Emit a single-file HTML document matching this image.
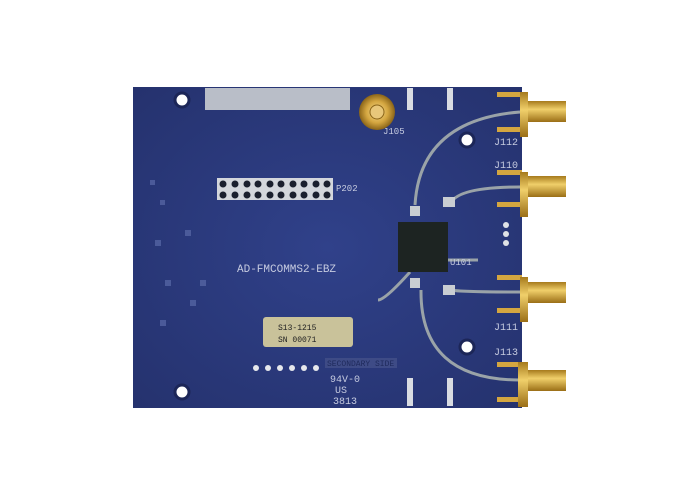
<!DOCTYPE html>
<html><head><style>
html,body{margin:0;padding:0;background:#fff;width:700px;height:500px;overflow:hidden}
svg{display:block}
text{font-family:"Liberation Mono",monospace}
</style></head><body>
<svg width="700" height="500" viewBox="0 0 700 500">
<defs>
<radialGradient id="bg" cx="0.5" cy="0.5" r="0.7">
<stop offset="0" stop-color="#30418a"/><stop offset="1" stop-color="#25326e"/>
</radialGradient>
<linearGradient id="gold" x1="0" y1="0" x2="0" y2="1">
<stop offset="0" stop-color="#a67a1c"/><stop offset="0.4" stop-color="#f0cf6a"/><stop offset="1" stop-color="#9a6e16"/>
</linearGradient>
<radialGradient id="goldr"><stop offset="0" stop-color="#f6dc90"/><stop offset="0.6" stop-color="#d4a640"/><stop offset="1" stop-color="#8a6418"/></radialGradient>
</defs>
<rect x="133" y="87" width="389" height="321" fill="url(#bg)"/>
<rect x="205" y="88" width="145" height="22" fill="#b9bec8"/>
<g fill="#fff" stroke="#1c2658" stroke-width="3">
<circle cx="182" cy="100" r="7"/><circle cx="182" cy="392" r="7"/>
<circle cx="467" cy="140" r="7"/><circle cx="467" cy="347" r="7"/>
</g>
<g fill="none" stroke="#9aa3a8" stroke-width="3">
<path d="M415 205 Q420 120 520 112"/>
<path d="M450 205 Q455 187 520 187"/>
<path d="M447 260 L478 260"/>
<path d="M410 272 Q385 300 378 300"/>
<path d="M451 290 Q460 292 520 292"/>
<path d="M421 290 Q420 380 520 380"/>
</g>
<rect x="398" y="222" width="50" height="50" fill="#1d2422"/>
<rect x="410" y="206" width="10" height="10" fill="#c9cdd2"/><rect x="410" y="278" width="10" height="10" fill="#c9cdd2"/>
<rect x="443" y="197" width="12" height="10" fill="#c9cdd2"/><rect x="443" y="285" width="12" height="10" fill="#c9cdd2"/>
<g fill="#dfe2e6"><circle cx="506" cy="225" r="3"/><circle cx="506" cy="234" r="3"/><circle cx="506" cy="243" r="3"/></g>
<rect x="217" y="178" width="116" height="22" fill="#d3d6dc"/>
<g fill="#1a1f2e">
<circle cx="223" cy="184" r="3.5"/><circle cx="235" cy="184" r="3.5"/><circle cx="247" cy="184" r="3.5"/><circle cx="258" cy="184" r="3.5"/><circle cx="270" cy="184" r="3.5"/><circle cx="281" cy="184" r="3.5"/><circle cx="293" cy="184" r="3.5"/><circle cx="304" cy="184" r="3.5"/><circle cx="316" cy="184" r="3.5"/><circle cx="327" cy="184" r="3.5"/>
<circle cx="223" cy="195" r="3.5"/><circle cx="235" cy="195" r="3.5"/><circle cx="247" cy="195" r="3.5"/><circle cx="258" cy="195" r="3.5"/><circle cx="270" cy="195" r="3.5"/><circle cx="281" cy="195" r="3.5"/><circle cx="293" cy="195" r="3.5"/><circle cx="304" cy="195" r="3.5"/><circle cx="316" cy="195" r="3.5"/><circle cx="327" cy="195" r="3.5"/>
</g>
<text x="336" y="191" font-size="9" fill="#c6cbe0">P202</text>
<circle cx="377" cy="112" r="18" fill="url(#goldr)"/>
<circle cx="377" cy="112" r="7" fill="#e8c77a" stroke="#8a6418"/>
<text x="383" y="134" font-size="9" fill="#c6cbe0">J105</text>
<g fill="#d9dce2">
<rect x="407" y="88" width="6" height="22"/><rect x="447" y="88" width="6" height="22"/>
<rect x="407" y="378" width="6" height="28"/><rect x="447" y="378" width="6" height="28"/>
</g>
<g>
<rect x="497" y="92" width="25" height="5" fill="#d4a640"/><rect x="497" y="127" width="25" height="5" fill="#d4a640"/>
<rect x="520" y="92" width="8" height="45" fill="url(#gold)"/><rect x="528" y="101" width="38" height="21" fill="url(#gold)"/>
<rect x="497" y="170" width="25" height="5" fill="#d4a640"/><rect x="497" y="202" width="25" height="5" fill="#d4a640"/>
<rect x="520" y="172" width="8" height="45" fill="url(#gold)"/><rect x="528" y="176" width="38" height="21" fill="url(#gold)"/>
<rect x="497" y="275" width="25" height="5" fill="#d4a640"/><rect x="497" y="308" width="25" height="5" fill="#d4a640"/>
<rect x="520" y="277" width="8" height="45" fill="url(#gold)"/><rect x="528" y="282" width="38" height="21" fill="url(#gold)"/>
<rect x="497" y="362" width="25" height="5" fill="#d4a640"/><rect x="497" y="397" width="25" height="5" fill="#d4a640"/>
<rect x="518" y="362" width="10" height="45" fill="url(#gold)"/><rect x="528" y="370" width="38" height="21" fill="url(#gold)"/>
</g>
<g font-size="10" fill="#c6cbe0">
<text x="494" y="145">J112</text><text x="494" y="168">J110</text>
<text x="494" y="330">J111</text><text x="494" y="355">J113</text>
<text x="450" y="265" font-size="9">U101</text>
</g>
<text x="237" y="272" font-size="11" fill="#c6cbe0">AD-FMCOMMS2-EBZ</text>
<rect x="263" y="317" width="90" height="30" rx="3" fill="#c9c29a"/>
<text x="278" y="330" font-size="8" fill="#222" font-family="Liberation Sans">S13-1215</text>
<text x="278" y="342" font-size="8" fill="#222" font-family="Liberation Sans">SN 00071</text>
<rect x="325" y="358" width="72" height="10" fill="#3e4b86"/>
<text x="327" y="366" font-size="8" fill="#1f2a5c">SECONDARY SIDE</text>
<g fill="#e6e8ec"><circle cx="256" cy="368" r="3"/><circle cx="268" cy="368" r="3"/><circle cx="280" cy="368" r="3"/><circle cx="292" cy="368" r="3"/><circle cx="304" cy="368" r="3"/><circle cx="316" cy="368" r="3"/></g>
<g font-size="10" fill="#c6cbe0" font-family="Liberation Sans"><text x="330" y="382">94V-0</text><text x="335" y="393">US</text><text x="333" y="404">3813</text></g>
<g fill="#5a6aa8" opacity="0.7">
<rect x="150" y="180" width="5" height="5"/><rect x="160" y="200" width="5" height="5"/><rect x="155" y="240" width="6" height="6"/><rect x="185" y="230" width="6" height="6"/><rect x="165" y="280" width="6" height="6"/><rect x="190" y="300" width="6" height="6"/><rect x="160" y="320" width="6" height="6"/><rect x="200" y="280" width="6" height="6"/>
</g>
</svg>
</body></html>
